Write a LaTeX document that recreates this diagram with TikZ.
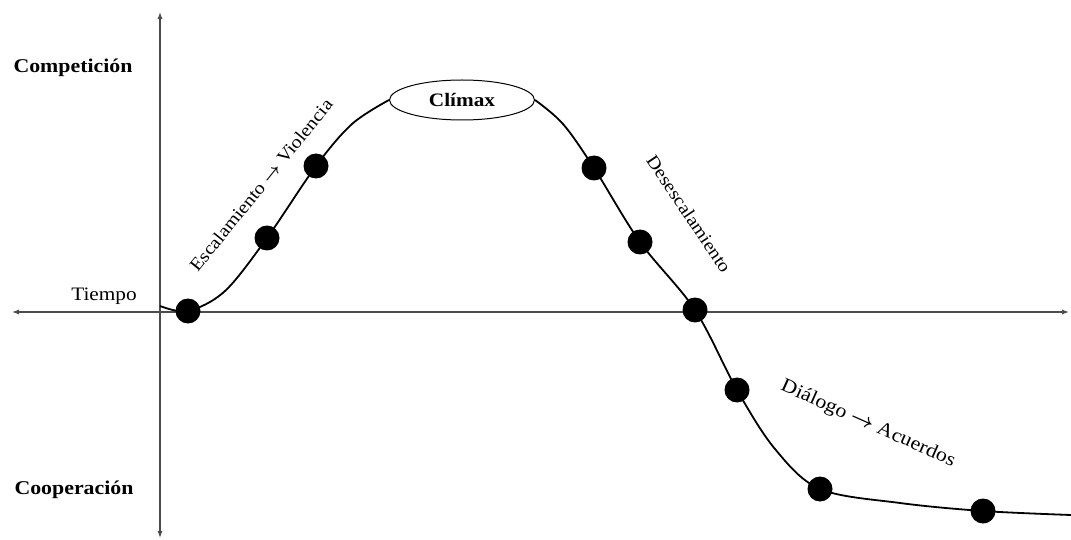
\documentclass[tikz,border=0pt]{standalone}
\usepackage{amsmath}
\usepackage{fontspec}
\setmainfont[FakeStretch=1.12]{Liberation Serif}
\usetikzlibrary{shapes.geometric,arrows.meta}
\tikzset{
  axis/.style={draw=black!70, line width=1.1pt, {Latex[length=7pt,width=5pt]}-{Latex[length=7pt,width=5pt]}},
  curve/.style={draw=black, line width=1.8pt},
  dot/.style={circle, fill=black, minimum size=25pt, inner sep=0pt},
  axlabel/.style={font=\fontsize{19.5}{22}\selectfont\bfseries},
  phase/.style={font=\fontsize{18}{20}\selectfont},
  climaxbox/.style={ellipse, draw=black, line width=1pt, fill=white, minimum width=145pt, minimum height=40pt, inner sep=0pt, font=\fontsize{19}{21}\selectfont\bfseries}
}
\begin{document}
\begin{tikzpicture}[x=1pt,y=-1pt]
\useasboundingbox (0,0) rectangle (1071,540);
% axes
\coordinate (vtop) at (160,12);
\coordinate (vbot) at (160,538);
\coordinate (hl) at (12,312);
\coordinate (hr) at (1069,312);
\draw[axis] (vbot) -- (vtop);
\draw[axis] (hl) -- (hr);
% labels
\node[axlabel] (comp) at (73,68) {Competición};
\node[axlabel] (coop) at (74,490) {Cooperación};
\node[font=\fontsize{19}{21}\selectfont] (tiempo) at (104,296) {Tiempo};
% climax
\node[climaxbox] (climax) at (462,100) {Clímax};
% curve anchors
\coordinate (s0) at (160,306);
\coordinate (e0) at (1071,515);
\coordinate (d1) at (188,311);
\coordinate (d2) at (267,238);
\coordinate (d3) at (316,166);
\coordinate (d4) at (594,168);
\coordinate (d5) at (640,242);
\coordinate (d6) at (695,310);
\coordinate (d7) at (737,390);
\coordinate (d8) at (820,489);
\coordinate (d9) at (983,511);
\draw[curve] plot[smooth, tension=0.55] coordinates {(s0) (d1) (225,291) (d2) (d3) (352,124) (climax.west)};
\draw[curve] plot[smooth, tension=0.55] coordinates {(climax.east) (563,124) (d4) (d5) (d6) (d7) (775,449) (d8) (900,503) (d9) (e0)};
% dots
\foreach \p in {d1,d2,d3,d4,d5,d6,d7,d8,d9}
  \node[dot] (n\p) at (\p) {};
% phase labels
\node[phase, rotate=51] (esc) at (261,185) {Escalamiento $\boldsymbol{\rightarrow}$ Violencia};
\node[phase, rotate=-56] (des) at (689,214) {Desescalamiento};
\node[phase, font=\fontsize{19.5}{22}\selectfont, rotate=-24] (dia) at (868,424) {Diálogo $\boldsymbol{\rightarrow}$ Acuerdos};
\end{tikzpicture}
\end{document}
